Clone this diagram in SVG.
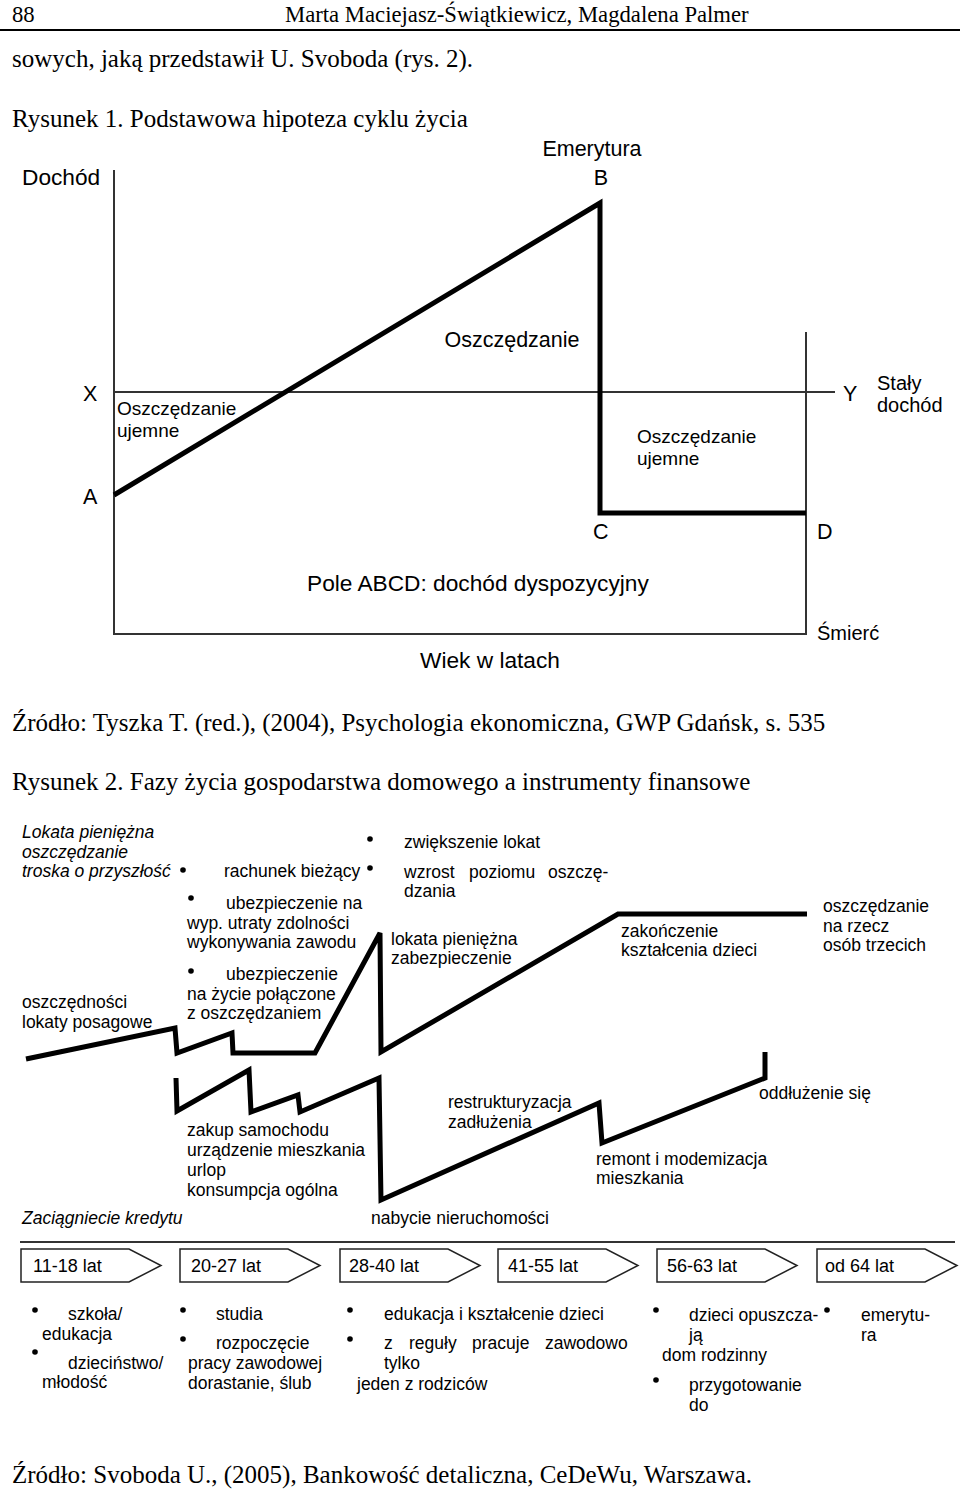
<svg xmlns="http://www.w3.org/2000/svg" width="960" height="1490" viewBox="0 0 960 1490">
<style>
.tr{font-family:"Liberation Serif","Times New Roman",serif;font-size:25px;fill:#000}
.hd{font-size:22.7px}
.s{font-family:"Liberation Sans",Arial,sans-serif;fill:#000}
.f22{font-size:22.7px}
.f21{font-size:21.5px}
.f20{font-size:20px}
.f18{font-size:19px}
.f2{font-size:17.5px}
.fb{font-size:18px}
.it{font-style:italic}
.thick{fill:none;stroke:#000;stroke-width:5;stroke-linejoin:miter}
.thin{fill:none;stroke:#333;stroke-width:2}
.box{fill:#fff;stroke:#222;stroke-width:1.5}
.dot{fill:#000}
</style>
<rect width="960" height="1490" fill="#fff"/>

<g id="page-text">
<text class="tr hd" x="12" y="22">88</text>
<text class="tr hd" x="285" y="22">Marta Maciejasz-Świątkiewicz, Magdalena Palmer</text>
<line x1="0" y1="30" x2="960" y2="30" stroke="#000" stroke-width="2"/>
<text class="tr" x="12" y="67">sowych, jaką przedstawił U. Svoboda (rys. 2).</text>
<text class="tr" x="12" y="127">Rysunek 1. Podstawowa hipoteza cyklu życia</text>
<text class="tr" x="12" y="731">Źródło: Tyszka T. (red.), (2004), Psychologia ekonomiczna, GWP Gdańsk, s. 535</text>
<text class="tr" x="12" y="790">Rysunek 2. Fazy życia gospodarstwa domowego a instrumenty finansowe</text>
<text class="tr" x="12" y="1483">Źródło: Svoboda U., (2005), Bankowość detaliczna, CeDeWu, Warszawa.</text>
</g>

<g id="figure1">
<g id="axes">
<polyline class="thin" points="114,170 114,634 806,634 806,332"/>
<line class="thin" x1="114" y1="392" x2="835" y2="392"/>
</g>
<g id="income-curve">
<polyline class="thick" points="114,495 600,203 600,513 806,513"/>
</g>
<g id="fig1-labels">
<text class="s f22" x="22" y="185">Dochód</text>
<text class="s f21" x="592" y="156" text-anchor="middle">Emerytura</text>
<text class="s f21" x="601" y="185" text-anchor="middle">B</text>
<text class="s f21" x="512" y="347" text-anchor="middle">Oszczędzanie</text>
<text class="s f21" x="83" y="401">X</text>
<text class="s f21" x="843" y="401">Y</text>
<text class="s f20" x="877" y="390">Stały</text>
<text class="s f20" x="877" y="412">dochód</text>
<text class="s f18" x="117" y="415">Oszczędzanie</text>
<text class="s f18" x="117" y="437">ujemne</text>
<text class="s f18" x="637" y="443">Oszczędzanie</text>
<text class="s f18" x="637" y="465">ujemne</text>
<text class="s f21" x="83" y="504">A</text>
<text class="s f21" x="593" y="539">C</text>
<text class="s f21" x="817" y="539">D</text>
<text class="s f22" x="307" y="591">Pole ABCD: dochód dyspozycyjny</text>
<text class="s f20" x="817" y="640">Śmierć</text>
<text class="s f22" x="420" y="668">Wiek w latach</text>
</g>
</g>

<g id="figure2">
<g id="connectors">
<polyline class="thick" points="26,1059 175,1028 177,1053 232,1033 233,1053 315,1053 380,933 381,1052 618,914 807,914"/>
<polyline class="thick" points="176,1078 177,1111 249,1070 251,1112 298,1095 300,1112 379,1078 381,1200 599,1103 602,1143 765,1078 765,1052"/>
<line class="thin" x1="20" y1="1242" x2="955" y2="1242"/>
</g>

<g id="savings-labels" class="s f2">
<text class="it" x="22" y="838">Lokata pieniężna</text>
<text class="it" x="22" y="858">oszczędzanie</text>
<text class="it" x="22" y="877">troska o przyszłość</text>
<circle class="dot" cx="183" cy="870" r="2.8"/>
<text x="224" y="877">rachunek bieżący</text>
<circle class="dot" cx="191" cy="898" r="2.8"/>
<text x="226" y="909">ubezpieczenie na</text>
<text x="187" y="929">wyp. utraty zdolności</text>
<text x="187" y="948">wykonywania zawodu</text>
<circle class="dot" cx="191" cy="971" r="2.8"/>
<text x="226" y="980">ubezpieczenie</text>
<text x="187" y="1000">na życie połączone</text>
<text x="187" y="1019">z oszczędzaniem</text>
<text x="22" y="1008">oszczędności</text>
<text x="22" y="1028">lokaty posagowe</text>
<circle class="dot" cx="370" cy="839" r="2.8"/>
<text x="404" y="848">zwiększenie lokat</text>
<circle class="dot" cx="370" cy="868" r="2.8"/>
<text x="404" y="878">wzrost</text>
<text x="469" y="878">poziomu</text>
<text x="548" y="878">oszczę-</text>
<text x="404" y="897">dzania</text>
<text x="391" y="945">lokata pieniężna</text>
<text x="391" y="964">zabezpieczenie</text>
<text x="621" y="937">zakończenie</text>
<text x="621" y="956">kształcenia dzieci</text>
<text x="823" y="912">oszczędzanie</text>
<text x="823" y="932">na rzecz</text>
<text x="823" y="951">osób trzecich</text>
</g>

<g id="credit-labels" class="s f2">
<text x="187" y="1136">zakup samochodu</text>
<text x="187" y="1156">urządzenie mieszkania</text>
<text x="187" y="1176">urlop</text>
<text x="187" y="1196">konsumpcja ogólna</text>
<text class="it" x="22" y="1224">Zaciągniecie kredytu</text>
<text x="371" y="1224">nabycie nieruchomości</text>
<text x="448" y="1108">restrukturyzacja</text>
<text x="448" y="1128">zadłużenia</text>
<text x="596" y="1165">remont i modemizacja</text>
<text x="596" y="1184">mieszkania</text>
<text x="759" y="1099">oddłużenie się</text>
</g>

<g id="age-11-18">
<polygon class="box" points="21,1249 129,1249 161,1265.5 129,1282 21,1282"/>
<text class="s fb" x="33" y="1272">11-18 lat</text>
</g>
<g id="age-20-27">
<polygon class="box" points="180,1249 288,1249 320,1265.5 288,1282 180,1282"/>
<text class="s fb" x="191" y="1272">20-27 lat</text>
</g>
<g id="age-28-40">
<polygon class="box" points="340,1249 448,1249 480,1265.5 448,1282 340,1282"/>
<text class="s fb" x="349" y="1272">28-40 lat</text>
</g>
<g id="age-41-55">
<polygon class="box" points="498,1249 606,1249 638,1265.5 606,1282 498,1282"/>
<text class="s fb" x="508" y="1272">41-55 lat</text>
</g>
<g id="age-56-63">
<polygon class="box" points="657,1249 765,1249 797,1265.5 765,1282 657,1282"/>
<text class="s fb" x="667" y="1272">56-63 lat</text>
</g>
<g id="age-64">
<polygon class="box" points="817,1249 925,1249 957,1265.5 925,1282 817,1282"/>
<text class="s fb" x="825" y="1272">od 64 lat</text>
</g>

<g id="phase-labels" class="s f2">
<circle class="dot" cx="35" cy="1310" r="2.8"/>
<text x="68" y="1320">szkoła/</text>
<text x="42" y="1340">edukacja</text>
<circle class="dot" cx="35" cy="1352" r="2.8"/>
<text x="68" y="1369">dzieciństwo/</text>
<text x="42" y="1388">młodość</text>
<circle class="dot" cx="183" cy="1310" r="2.8"/>
<text x="216" y="1320">studia</text>
<circle class="dot" cx="183" cy="1339" r="2.8"/>
<text x="216" y="1349">rozpoczęcie</text>
<text x="188" y="1369">pracy zawodowej</text>
<text x="188" y="1389">dorastanie, ślub</text>
<circle class="dot" cx="350" cy="1310" r="2.8"/>
<text x="384" y="1320">edukacja i kształcenie dzieci</text>
<circle class="dot" cx="350" cy="1339" r="2.8"/>
<text x="384" y="1349">z</text>
<text x="409" y="1349">reguły</text>
<text x="472" y="1349">pracuje</text>
<text x="545" y="1349">zawodowo</text>
<text x="384" y="1369">tylko</text>
<text x="357" y="1390">jeden z rodziców</text>
<circle class="dot" cx="656" cy="1310" r="2.8"/>
<text x="689" y="1321">dzieci opuszcza-</text>
<text x="689" y="1341">ją</text>
<text x="662" y="1361">dom rodzinny</text>
<circle class="dot" cx="656" cy="1380" r="2.8"/>
<text x="689" y="1391">przygotowanie</text>
<text x="689" y="1411">do</text>
<circle class="dot" cx="827" cy="1310" r="2.8"/>
<text x="861" y="1321">emerytu-</text>
<text x="861" y="1341">ra</text>
</g>
</g>
</svg>
